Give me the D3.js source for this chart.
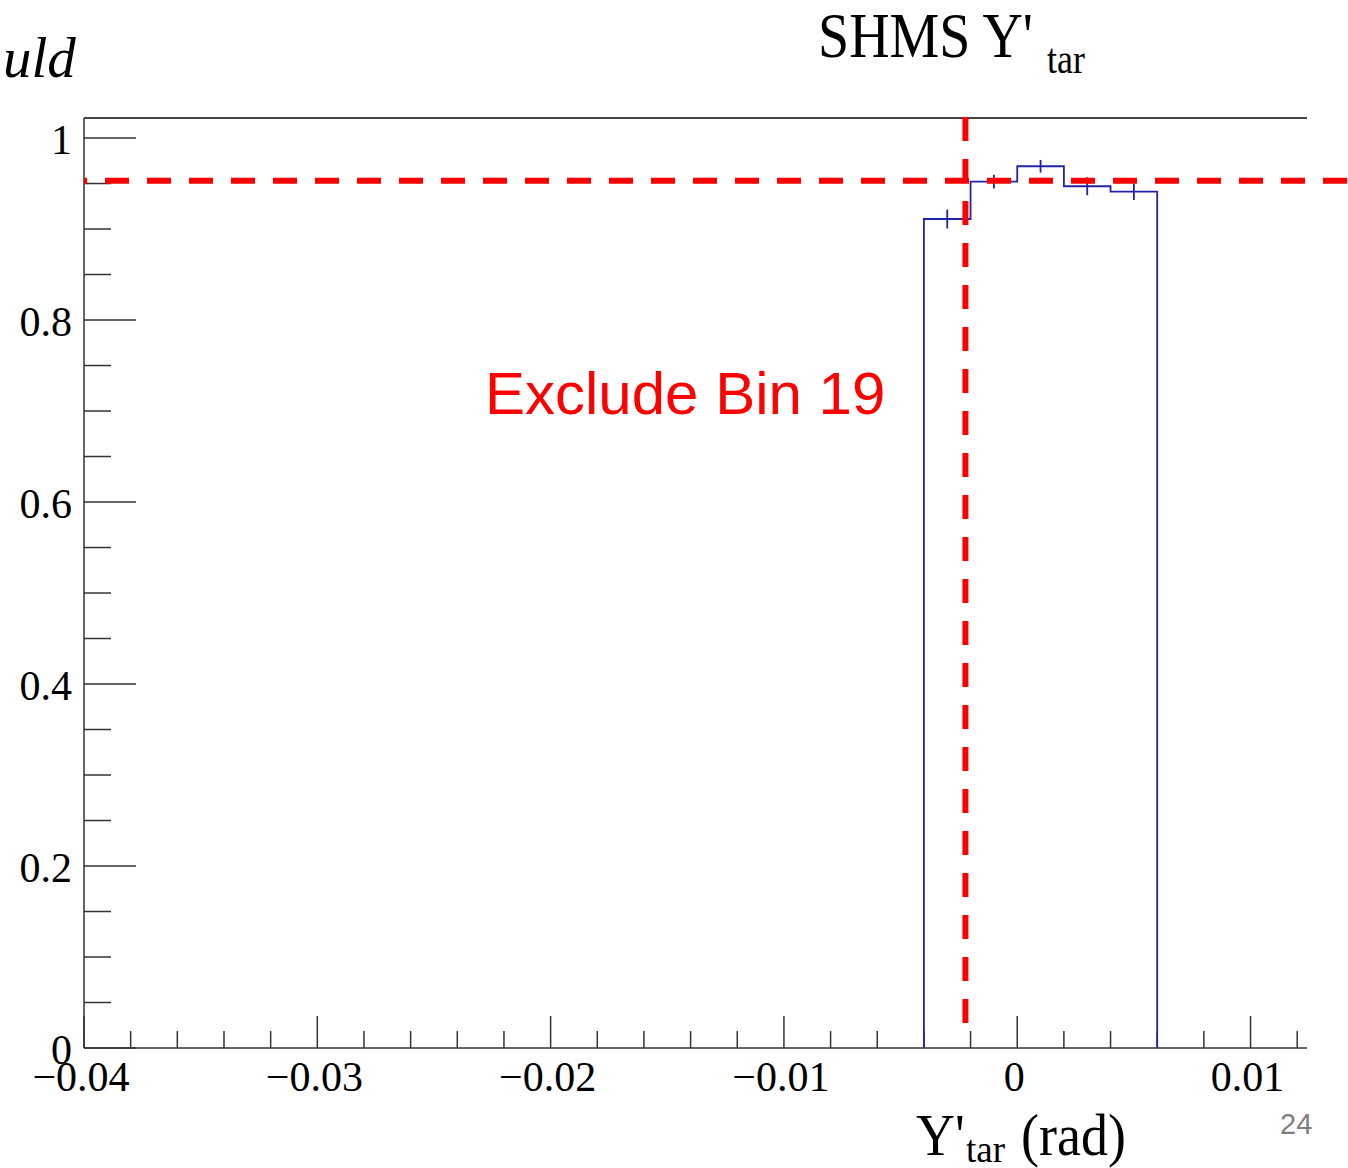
<!DOCTYPE html>
<html>
<head>
<meta charset="utf-8">
<script src="https://cdn.jsdelivr.net/npm/d3@7"></script>
<style>
  body { margin: 0; background: #fff; }
  svg { display: block; }
</style>
</head>
<body>
<div class="chart"></div>
<script>
// histogram bins (rad) and content
var binLow = [-0.004, -0.002, 0, 0.002, 0.004];
var binHigh = [-0.002, 0, 0.002, 0.004, 0.006];
var binValue = [0.911, 0.952, 0.969, 0.947, 0.941];
var binError = [0.0104, 0.0075, 0.0069, 0.0099, 0.0091];

// cut lines drawn on the slide
var cutY = 0.953;
var cutX = -0.00222;

// axis ticks
var xMajor = [-0.04, -0.03, -0.02, -0.01, 0, 0.01];
var xMinor = [-0.038, -0.036, -0.034, -0.032, -0.028, -0.026, -0.024, -0.022,
    -0.018, -0.016, -0.014, -0.012, -0.008, -0.006, -0.004, -0.002,
    0.002, 0.004, 0.006, 0.008, 0.012];
var xLabels = ["\u22120.04", "\u22120.03", "\u22120.02", "\u22120.01", "0", "0.01"];
var yMajor = [0, 0.2, 0.4, 0.6, 0.8, 1];
var yMinor = [0.05, 0.1, 0.15, 0.25, 0.3, 0.35, 0.45, 0.5, 0.55, 0.65, 0.7, 0.75, 0.85, 0.9, 0.95];
var yLabels = ["0", "0.2", "0.4", "0.6", "0.8", "1"];

var width = 1348;
var height = 1168;
var plotLeft = 84, plotRight = 1307, plotTop = 118, plotBottom = 1048;

var x = d3.scaleLinear().domain([-0.04, 0.01242]).range([plotLeft, plotRight]);
var y = d3.scaleLinear().domain([0, 1.022]).range([plotBottom, plotTop]);

var svg = d3.select(".chart")
    .append("svg")
    .attr("width", width)
    .attr("height", height);

var serif = "'Liberation Serif', 'Times New Roman', serif";
var axisColor = "#333";

// frame: top, left and bottom lines (no right edge)
svg.append("line")
    .attr("x1", plotLeft).attr("x2", plotRight)
    .attr("y1", plotTop).attr("y2", plotTop)
    .attr("stroke", "#444").attr("stroke-width", 2);
svg.append("line")
    .attr("x1", plotLeft).attr("x2", plotLeft)
    .attr("y1", plotTop).attr("y2", plotBottom)
    .attr("stroke", axisColor).attr("stroke-width", 1.5);
svg.append("line")
    .attr("x1", plotLeft).attr("x2", plotRight)
    .attr("y1", plotBottom).attr("y2", plotBottom)
    .attr("stroke", axisColor).attr("stroke-width", 1.5);

// x ticks point up
svg.selectAll(".xMajor")
    .data(xMajor)
    .enter().append("line")
    .attr("class", "xMajor")
    .attr("x1", function(d) { return x(d); })
    .attr("x2", function(d) { return x(d); })
    .attr("y1", plotBottom).attr("y2", plotBottom - 32)
    .attr("stroke", axisColor).attr("stroke-width", 1.5);
svg.selectAll(".xMinor")
    .data(xMinor)
    .enter().append("line")
    .attr("class", "xMinor")
    .attr("x1", function(d) { return x(d); })
    .attr("x2", function(d) { return x(d); })
    .attr("y1", plotBottom).attr("y2", plotBottom - 17)
    .attr("stroke", axisColor).attr("stroke-width", 1.5);

svg.selectAll(".xLabel")
    .data(xMajor)
    .enter().append("text")
    .attr("class", "xLabel")
    .attr("x", function(d) { return x(d) - 3; })
    .attr("y", 1091)
    .attr("text-anchor", "middle")
    .style("font-family", serif)
    .style("font-size", "42px")
    .text(function(d, i) { return xLabels[i]; });

// y ticks point right
svg.selectAll(".yMajor")
    .data(yMajor)
    .enter().append("line")
    .attr("class", "yMajor")
    .attr("x1", plotLeft).attr("x2", plotLeft + 52)
    .attr("y1", function(d) { return y(d); })
    .attr("y2", function(d) { return y(d); })
    .attr("stroke", axisColor).attr("stroke-width", 1.5);
svg.selectAll(".yMinor")
    .data(yMinor)
    .enter().append("line")
    .attr("class", "yMinor")
    .attr("x1", plotLeft).attr("x2", plotLeft + 27)
    .attr("y1", function(d) { return y(d); })
    .attr("y2", function(d) { return y(d); })
    .attr("stroke", axisColor).attr("stroke-width", 1.5);

svg.selectAll(".yLabel")
    .data(yMajor)
    .enter().append("text")
    .attr("class", "yLabel")
    .attr("x", 72)
    .attr("y", function(d) { return y(d) + 15.5; })
    .attr("text-anchor", "end")
    .style("font-family", serif)
    .style("font-size", "42px")
    .text(function(d, i) { return yLabels[i]; });

// histogram outline as steps
var bins = binLow.map(function(d, i) {
    return { lo: d, hi: binHigh[i], v: binValue[i], e: binError[i] };
});
var stepPts = [[bins[0].lo, 0]];
bins.forEach(function(b) {
    stepPts.push([b.lo, b.v]);
    stepPts.push([b.hi, b.v]);
});
stepPts.push([bins[bins.length - 1].hi, 0]);

var stepLine = d3.line()
    .x(function(d) { return x(d[0]); })
    .y(function(d) { return y(d[1]); });

var histColor = "#2323a8";

svg.append("path")
    .attr("d", stepLine(stepPts))
    .attr("fill", "none")
    .attr("stroke", histColor)
    .attr("stroke-width", 1.8);

svg.selectAll(".errBar")
    .data(bins)
    .enter().append("line")
    .attr("class", "errBar")
    .attr("x1", function(d) { return x((d.lo + d.hi) / 2); })
    .attr("x2", function(d) { return x((d.lo + d.hi) / 2); })
    .attr("y1", function(d) { return y(d.v - d.e); })
    .attr("y2", function(d) { return y(d.v + d.e); })
    .attr("stroke", histColor)
    .attr("stroke-width", 1.8);

// red dashed cut lines
svg.append("line")
    .attr("x1", plotLeft).attr("x2", width)
    .attr("y1", y(cutY)).attr("y2", y(cutY))
    .attr("stroke", "#ff0000")
    .attr("stroke-width", 6)
    .attr("stroke-dasharray", "24 18")
    .attr("stroke-dashoffset", 21);

svg.append("line")
    .attr("x1", x(cutX)).attr("x2", x(cutX))
    .attr("y1", 117).attr("y2", 1036)
    .attr("stroke", "#ff0000")
    .attr("stroke-width", 6)
    .attr("stroke-dasharray", "24 18");

svg.append("text")
    .attr("x", 485)
    .attr("y", 414)
    .attr("fill", "#ff0000")
    .style("font-family", "'Liberation Sans', Arial, sans-serif")
    .style("font-size", "60px")
    .text("Exclude Bin 19");

// titles, stretched a bit vertically like the ROOT output
function stretched(tx, ty, size, sy, str) {
    svg.append("text")
        .attr("transform", "translate(" + tx + "," + ty + ") scale(1," + sy + ")")
        .style("font-family", serif)
        .style("font-size", size + "px")
        .text(str);
}

stretched(818, 57, 56, 1.15, "SHMS Y'");
stretched(1047, 73, 36, 1.15, "tar");

stretched(916, 1155, 54, 1.1, "Y'");
stretched(966, 1162, 37, 1.05, "tar");
stretched(1021, 1155, 54, 1.1, "(rad)");

// slide leftovers
svg.append("text")
    .attr("x", 3)
    .attr("y", 77)
    .style("font-family", "'Liberation Serif', serif")
    .style("font-style", "italic")
    .style("font-size", "57px")
    .text("uld");

svg.append("text")
    .attr("x", 1280)
    .attr("y", 1134)
    .attr("fill", "#7f7f7f")
    .style("font-family", "'Liberation Sans', Arial, sans-serif")
    .style("font-size", "29px")
    .text("24");
</script>
</body>
</html>
